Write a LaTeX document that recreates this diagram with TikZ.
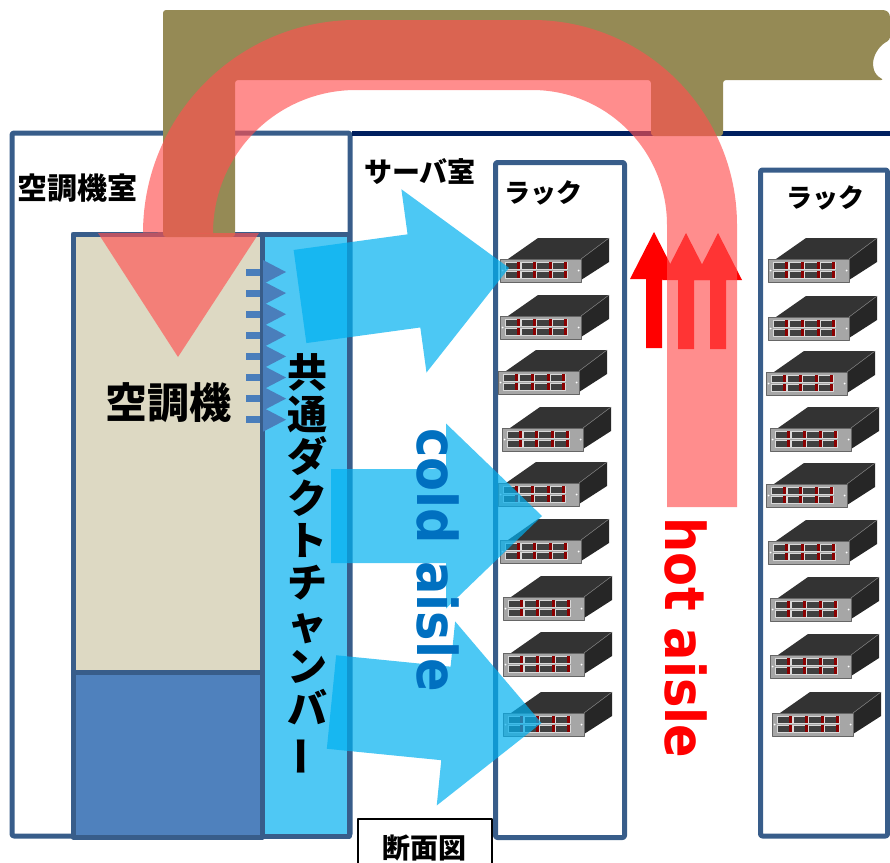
\documentclass[tikz,border=0pt]{standalone}
\usepackage{fontspec}
\newfontfamily\jp{Noto Sans CJK JP}
\newfontfamily\lat[FakeStretch=0.9]{DejaVu Sans Bold}

\definecolor{olivebrown}{RGB}{149,138,85}
\definecolor{wallblue}{RGB}{56,93,138}
\definecolor{navyline}{RGB}{0,32,96}
\definecolor{acbeige}{RGB}{221,217,195}
\definecolor{acblue}{RGB}{79,129,189}
\definecolor{ductblue}{RGB}{79,200,244}
\definecolor{coldblue}{RGB}{0,176,240}
\definecolor{coldtext}{RGB}{0,112,192}
\definecolor{hotpink}{RGB}{255,80,80}
\definecolor{ventblue}{RGB}{74,126,187}
\definecolor{srvtop}{RGB}{51,51,51}
\definecolor{srvside}{RGB}{38,38,38}
\definecolor{srvfront}{RGB}{166,166,166}
\definecolor{srvslot}{RGB}{64,64,64}
\definecolor{srvred}{RGB}{139,0,0}

\tikzset{
  wall/.style={draw=wallblue, line width=5},
  rackbox/.style={draw=wallblue, line width=5, rounded corners=2},
  coldarrow/.style={fill=coldblue, fill opacity=0.7},
  hotband/.style={draw=hotpink, draw opacity=0.65, line width=70},
  hotfill/.style={fill=hotpink, fill opacity=0.65},
  jplabel/.style={inner sep=0, font=\jp\bfseries},
  % one 1U server seen from the front-left
  server/.pic={
    \fill[srvtop] (8,0) -- (38,-21) -- (109,-21) -- (81,0) -- cycle;
    \fill[srvside] (81,0) -- (109,-21) -- (109,3) -- (81,21) -- cycle;
    \draw[gray, line width=0.5] (81,0) -- (109,-21);
    \filldraw[fill=srvfront, draw=gray!80!black, line width=0.6] (0,0) rectangle (81,23);
    \foreach \c in {0,1,2,3} \foreach \r in {0,1} {
      \filldraw[fill=srvslot, draw=white!85!black, line width=0.5]
        ({5+15.8*\c},{3+9*\r}) rectangle ++(15,7);
      \fill[srvred] ({17+15.8*\c},{3+9*\r}) rectangle ++(3,7);
    }
    \fill[white] (2.5,11.5) circle (1);
    \fill[white] (78.5,11.5) circle (1);
  },
  % wide block arrow for the cold supply air
  bigarrow/.pic={
    \fill[coldarrow] (0,-47) -- (115,-47) -- (115,-92.5) -- (211,0)
      -- (115,92.5) -- (115,47) -- (0,47) -- cycle;
  },
  % thin upward arrow for the hot exhaust
  uparrow/.pic={
    \fill[red] (-8,116) -- (-8,47) -- (-24,47) -- (0,0) -- (24,47)
      -- (8,47) -- (8,116) -- cycle;
  }
}

\begin{document}
\begin{tikzpicture}[x=1pt, y=-1pt, line join=round]
\useasboundingbox (0,0) rectangle (890,862);

% air-conditioning room
\draw[wall, rounded corners=2] (12,133) rectangle (350,836);

% shared duct chamber and the air conditioner
\filldraw[fill=ductblue, wall] (262,234) rectangle (349,836);
\filldraw[fill=acbeige, wall] (73,234) rectangle (262,672);
\filldraw[fill=acblue, wall] (73,672) rectangle (262,837);

% outlets from the air conditioner into the chamber
\foreach \i in {0,...,7} {
  \pgfmathsetmacro\yy{272+21.1*\i}
  \fill[ventblue] (246,\yy-3.5) rectangle (260,\yy+3.5);
  \fill[ventblue] (263,\yy-12) -- (286,\yy) -- (263,\yy+12) -- cycle;
}

% server room ceiling
\draw[navyline, line width=5] (352,133) -- (890,133);

% return air duct above the ceiling
\fill[olivebrown, rounded corners=3] (163,237) -- (163,10) -- (886,10) -- (890,14)
  -- (890,40) .. controls (874,48) and (866,70) .. (884,80)
  -- (723,80) -- (723,136) -- (651,136) -- (651,80) -- (235,80) -- (235,237) -- cycle;

% racks
\draw[rackbox] (495.5,162.5) rectangle (624.5,837.5);
\draw[rackbox] (760.5,170) rectangle (887.5,836);
\node[jplabel, font=\jp\bfseries\fontsize{26}{30}\selectfont] (rackA) at (543,193) {ラック};
\node[jplabel, font=\jp\bfseries\fontsize{26}{30}\selectfont] (rackB) at (825,198) {ラック};

\foreach \x/\y in {500/259,500/316,498/371,502/428,498/483,500/540,503/597,503/653,503/713}
  \pic at (\x,\y) {server};
\foreach \x/\y in {768/259,768/317,766/372,770/428,766/484,768/541,770/598,770/655,772/713}
  \pic at (\x,\y) {server};

% hot exhaust rising in the hot aisle
\pic at (654,232) {uparrow};
\pic at (686,233) {uparrow};
\pic at (718,233) {uparrow};

% cold supply air into the cold aisle
\pic[rotate=7.8] at (300,296.5) {bigarrow};
\pic at (331,516) {bigarrow};
\pic[rotate=-5.7] at (331.5,702) {bigarrow};

\node[rotate=-90, inner sep=0, text=coldtext, font=\lat\fontsize{55}{60}\selectfont]
  (cold) at (438,560) {cold aisle};

% hot air returning through the ceiling duct
\draw[hotband] (702,507) -- (702,225)
  .. controls (702,131.1) and (625.9,55) .. (532,55) -- (356,55)
  .. controls (257.7,55) and (178,134.7) .. (178,233);
\fill[hotfill] (98,233) -- (259,233) -- (178,357) -- cycle;

\node[rotate=-90, inner sep=0, text=red, font=\lat\fontsize{55}{60}\selectfont]
  (hot) at (686,638) {hot aisle};

% labels
\node[jplabel, anchor=west, font=\jp\bfseries\fontsize{30}{36}\selectfont] (acroom) at (17,188) {空調機室};
\node[jplabel, anchor=west, font=\jp\bfseries\fontsize{28}{34}\selectfont] (srvroom) at (364,172) {サーバ室};
\node[jplabel, font=\jp\bfseries\fontsize{42}{48}\selectfont] (acunit) at (168,403) {空調機};
\node[jplabel, align=center, font=\jp\bfseries\fontsize{40}{42}\selectfont] (chamber) at (307,565)
  {共\\通\\ダ\\ク\\ト\\チ\\ャ\\ン\\バ\\\rotatebox[origin=c]{90}{ー}};

% section view tag
\draw[black, line width=1.5, fill=white] (358,819) rectangle (492,875);
\node[jplabel, font=\jp\bfseries\fontsize{28}{34}\selectfont] (section) at (424,848) {断面図};
\end{tikzpicture}
\end{document}
